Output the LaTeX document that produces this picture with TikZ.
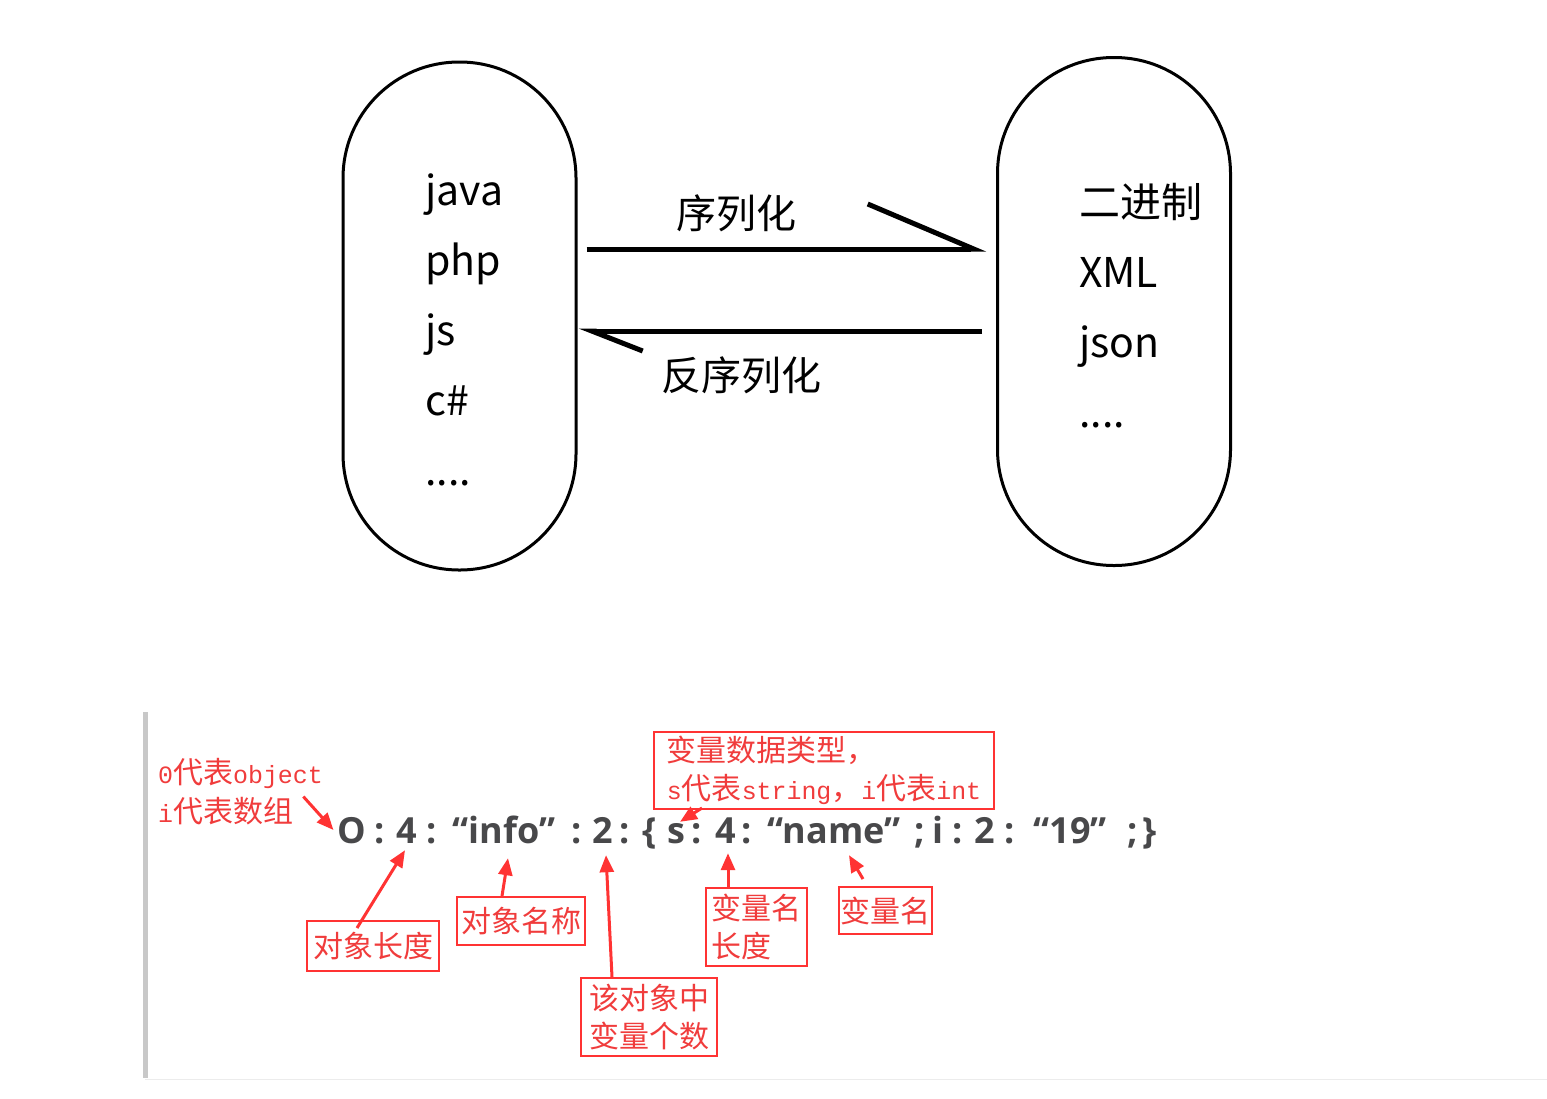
\documentclass[tikz,border=0pt]{standalone}
\usepackage{fontspec}
\setmainfont{Noto Sans CJK SC}
\newfontfamily\codefont{Open Sans}
\newfontfamily\redlat[Scale=0.83]{Liberation Mono}
\usetikzlibrary{arrows.meta}
\newcommand{\fourdots}{....}
\definecolor{notered}{RGB}{255,51,51}
\definecolor{notetext}{RGB}{240,60,60}
\definecolor{codegray}{RGB}{72,72,74}
\definecolor{bargray}{RGB}{200,200,200}
\tikzset{
    pill/.style={draw, line width=3pt, rounded corners=116pt, minimum width=233pt, minimum height=508pt},
    item/.style={anchor=base west, font=\fontsize{41}{41}\selectfont},
    flowlabel/.style={anchor=base, font=\fontsize{40}{40}\selectfont},
    flow/.style={line width=5pt},
    token/.style={anchor=base, text=codegray, font=\codefont\bfseries\fontsize{36}{36}\selectfont, text height=26pt, text depth=0pt},
    notebox/.style={draw=notered, line width=2pt, text=notetext, align=left, font=\fontsize{30}{38}\selectfont},
    notetxt/.style={anchor=base west, text=notetext, font=\fontsize{30}{30}\selectfont},
    note/.style={draw=notered, line width=3pt, -{Triangle[length=17pt,width=14pt]}},
}
\begin{document}
\begin{tikzpicture}[x=1pt,y=-1pt]
    \tikzstyle{every node}+=[inner sep=0pt]
    \useasboundingbox (0,0) rectangle (1547,1098);
    \node[pill] (lang) at (459.5,316) {};
    \node[pill] (fmt) at (1114,311.5) {};
    \foreach \lbl [count=\i] in {java,php,js,c\#,\fourdots}
        \node[item] (l\i) at (425,135+70*\i) {\lbl};
    \foreach \lbl [count=\i] in {二进制,XML,json,\fourdots}
        \node[item] (r\i) at (1079,147+70*\i) {\lbl};
    \node[flowlabel] (ser) at (736,228) {序列化};
    \node[flowlabel] (deser) at (741,390) {反序列化};
    \draw[flow, -{Straight Barb[harpoon,left,length=106pt,width=90pt]}] ([xshift=9pt,yshift=67pt]lang.east) -- ([xshift=-10pt,yshift=62.5pt]fmt.west);
    \draw[flow, -{Straight Barb[harpoon,left,length=51pt,width=40pt]}] ([xshift=-14pt,yshift=-19.5pt]fmt.west) -- ([xshift=1pt,yshift=-15pt]lang.east);
    \fill[bargray] (143,712) rectangle (148,1078);
    \draw[gray!15] (145,1079.5) -- (1547,1079.5);
    % \fill[gray] (357,712) circle (1);
    \node[notetxt] (otype1) at (158,783) {{\redlat 0}代表{\redlat object}};
    \node[notetxt] (otype2) at (158,822) {{\redlat i}代表数组};
    \foreach \x/\lbl [count=\i] in {352/O, 380/:, 407/4, 432/:, 504/“info”, 577/:, 603/2, 625/:, 650/\{, 676/s, 697/:, 726/4, 747/:, 834/“name”, 920/;, 938/i, 958/:, 985/2, 1010/:, 1070/“19”, 1133/;, 1150/\}}
        \node[token] (c\i) at (\x,843) {\lbl};
    \node[notebox, minimum width=132pt, minimum height=50pt] (len) at (373,946) {对象长度};
    \node[notebox, minimum width=128pt, minimum height=48pt] (oname) at (521,921) {对象名称};
    \node[notebox, minimum width=136pt, minimum height=78pt] (cnt) at (649,1017) {该对象中\\变量个数};
    \node[notebox, minimum width=340pt, minimum height=77pt] (vtype) at (824,770.5) {变量数据类型，\\{\redlat s}代表{\redlat string}，{\redlat i}代表{\redlat int}};
    \node[notebox, minimum width=101pt, minimum height=78pt] (vlen) at (756.5,927) {变量名\\长度};
    \node[notebox, minimum width=93pt, minimum height=47pt] (vname) at (885.5,910.5) {变量名};
    \draw[note] ([xshift=10pt]otype2.north east) -- ([xshift=-4pt]c1.west);
    \draw[note] ([xshift=-16pt,yshift=-8pt]len.north) -- ([xshift=-2pt,yshift=-7pt]c3.south);
    \draw[note] ([xshift=-19pt]oname.north) -- ([xshift=4pt,yshift=-15pt]c5.south);
    \draw[note] ([xshift=-37pt]cnt.north) -- ([xshift=3pt,yshift=-12pt]c7.south);
    \draw[note] ([xshift=-122pt,yshift=2pt]vtype.south) -- ([xshift=4pt,yshift=-5pt]c10.north);
    \draw[note] ([xshift=-28.5pt]vlen.north) -- ([xshift=2pt,yshift=-10pt]c12.south);
    \draw[note] ([xshift=-22.5pt,yshift=7pt]vname.north) -- ([xshift=15pt,yshift=-12pt]c14.south);
\end{tikzpicture}
\end{document}
